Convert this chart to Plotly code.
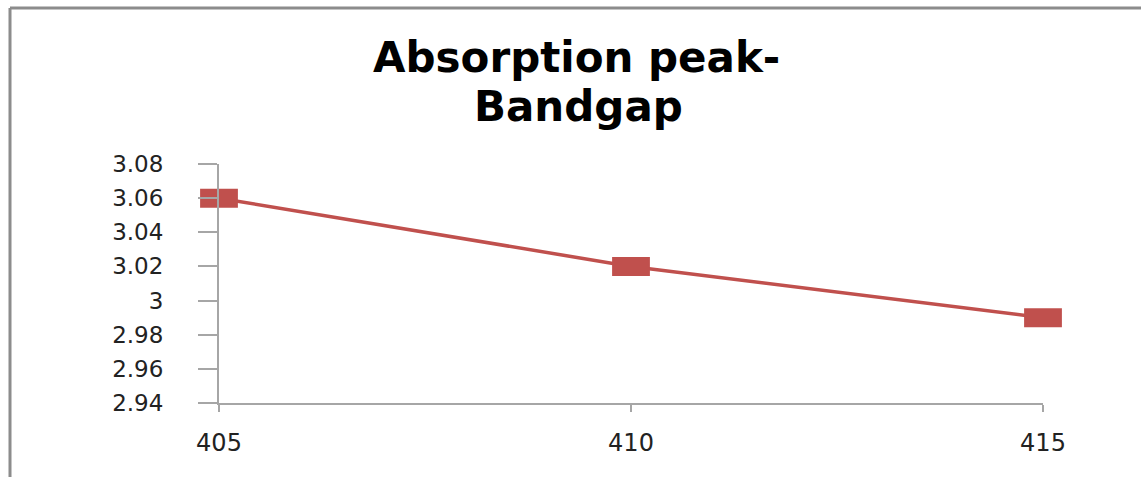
import plotly.graph_objects as go

# Data
wavelength = [405, 410, 415]
bandgap = [3.06, 3.02, 2.99]
y_ticks = [2.94, 2.96, 2.98, 3.00, 3.02, 3.04, 3.06, 3.08]
y_ticktext = ["2.94", "2.96", "2.98", "3", "3.02", "3.04", "3.06", "3.08"]
x_ticks = [405, 410, 415]
title_lines = ["Absorption peak-", "Bandgap"]

RED = "#C0504D"
AXIS = "#A6A6A6"
W, H = 1141, 477
L, R, T, B = 219, 98, 164, 74

fig = go.Figure()
fig.add_trace(go.Scatter(
    x=wavelength, y=bandgap, mode="lines+markers",
    line=dict(color=RED, width=3.5),
    marker=dict(symbol="line-ew", size=27, color=RED,
                line=dict(color=RED, width=19)),
    cliponaxis=False, hoverinfo="skip", showlegend=False,
))

pw, ph = W - L - R, H - T - B
def px_x(p):
    return (p - L) / pw
def px_y(p):
    return (H - B - p) / ph

shapes = [
    dict(type="line", xref="paper", yref="paper",
         x0=px_x(10), x1=px_x(10), y0=px_y(480), y1=px_y(8),
         line=dict(color="#8C8C8C", width=3)),
    dict(type="line", xref="paper", yref="paper",
         x0=px_x(10), x1=px_x(1145), y0=px_y(8), y1=px_y(8),
         line=dict(color="#8C8C8C", width=3)),
]

annotations = [
    dict(text="<b>" + title_lines[0] + "</b>", xref="paper", yref="paper",
         x=px_x(576), y=px_y(31), xanchor="center", yanchor="top",
         showarrow=False, font=dict(family="DejaVu Sans", size=42, color="black")),
    dict(text="<b>" + title_lines[1] + "</b>", xref="paper", yref="paper",
         x=px_x(578), y=px_y(80), xanchor="center", yanchor="top",
         showarrow=False, font=dict(family="DejaVu Sans", size=42, color="black")),
]

fig.update_layout(
    width=W, height=H,
    margin=dict(l=L, r=R, t=T, b=B),
    paper_bgcolor="white", plot_bgcolor="white",
    font=dict(family="DejaVu Sans", color="#222222"),
    shapes=shapes, annotations=annotations,
    showlegend=False,
)
fig.update_xaxes(
    range=[405, 415], tickvals=x_ticks, ticktext=[str(v) for v in x_ticks],
    showgrid=False, zeroline=False, showline=True, linecolor=AXIS, linewidth=2,
    ticks="outside", ticklen=7, tickcolor=AXIS, tickwidth=2,
    tickfont=dict(size=24, color="#222222"), ticklabelstandoff=10,
)
fig.update_yaxes(
    range=[2.94, 3.08], tickvals=y_ticks, ticktext=y_ticktext,
    showgrid=False, zeroline=False, showline=True, linecolor=AXIS, linewidth=2,
    ticks="outside", ticklen=19, tickcolor=AXIS, tickwidth=2,
    tickfont=dict(size=23, color="#222222"), ticklabelstandoff=30,
)

fig.write_html("out.html", config={"displayModeBar": False})
